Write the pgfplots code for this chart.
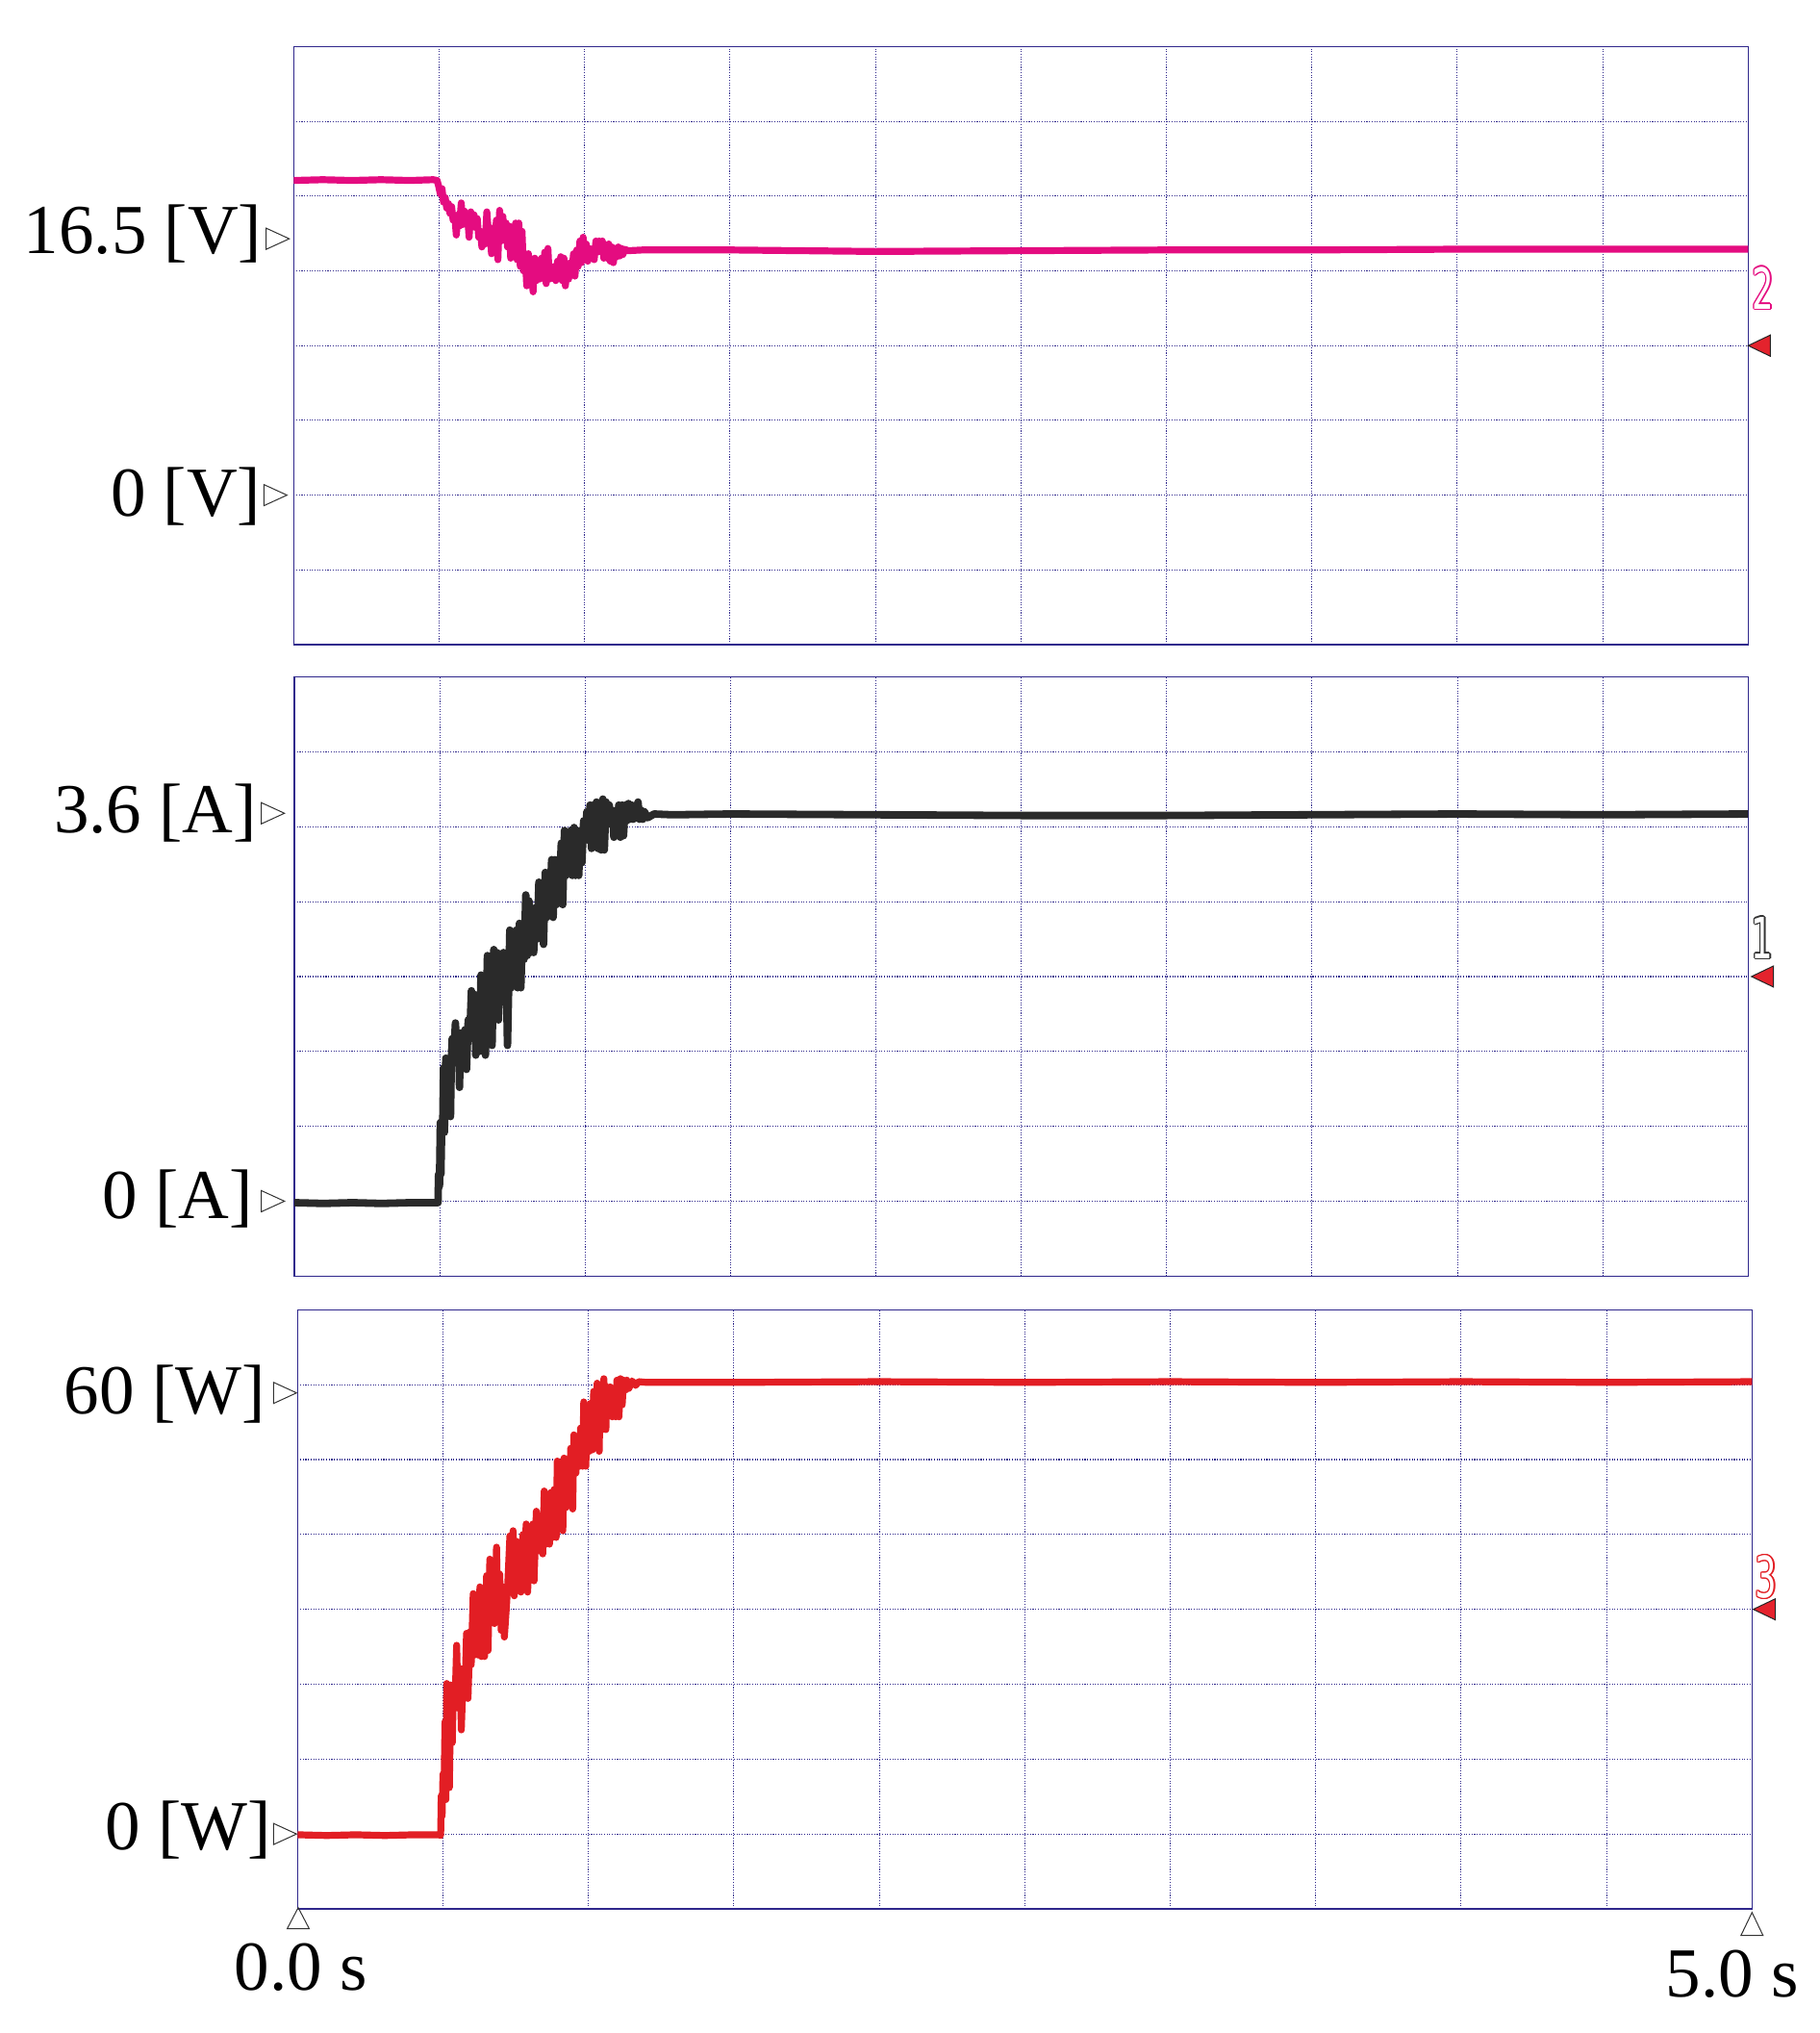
\documentclass[border=0pt]{standalone}
\usepackage{fontspec}
\setmainfont{Liberation Serif}
\newfontfamily\digfontfam[FakeStretch=0.6]{DejaVu Sans}
\usepackage{pgfplots}
\pgfplotsset{compat=1.18}
\definecolor{gridcol}{RGB}{48,40,140}
\definecolor{tpink}{RGB}{228,12,128}
\definecolor{tblack}{RGB}{42,42,42}
\definecolor{tred}{RGB}{226,30,36}
\definecolor{trired}{RGB}{228,35,45}
\newcommand\lbfont{\fontsize{36.5}{40}\selectfont}
\newcommand\digfont{\digfontfam\fontsize{29.5}{30}\selectfont}
% left label: text, tip x, text right x, baseline y (units: px = 0.5pt)
\NewDocumentCommand{\ylab}{mmmm}{\tikz[x=0.5pt,y=0.5pt,baseline=0pt]{\path (0,0);
 \draw[overlay,line width=0.5pt,draw=black!80] (#2,0) -- ({#2-24},11) -- ({#2-24},-11) -- cycle;
 \node[overlay,anchor=base east,inner sep=0pt,font=\lbfont,text=black] at (#3,#4) {#1};}}
% right marker: axis width, tip offset, digit colour, digit, dx, dy
\NewDocumentCommand{\rmark}{mmmmmm}{\tikz[x=0.5pt,y=0.5pt,baseline=0pt]{\path (0,0);
 \draw[overlay,line width=0.5pt,draw=black!85,fill=trired] ({#1+#2},0) -- ({#1+#2+23},11) -- ({#1+#2+23},-11) -- cycle;
 \foreach \a in {0,30,...,330}{\node[overlay,inner sep=0pt,text=#3,font=\digfont] at ({#1+#5+1.3*cos(\a)},{#6+1.3*sin(\a)}) {#4};}
 \node[overlay,inner sep=0pt,text=white,font=\digfont] at ({#1+#5},{#6}) {#4};}}
% x label: text, apex dx, apex dy, tri height, text dx, baseline dy
\NewDocumentCommand{\xlab}{mmmmmm}{\tikz[x=0.5pt,y=0.5pt,baseline=0pt]{\path (0,0);
 \draw[overlay,line width=0.5pt,draw=black!80] (#2,#3) -- ({#2-11.5},{#3-#4}) -- ({#2+11.5},{#3-#4}) -- cycle;
 \node[overlay,anchor=base,inner sep=0pt,font=\lbfont,text=black] at (#5,#6) {#1};}}
\pgfplotsset{osc/.style={scale only axis, anchor=north west,
  xmin=0,xmax=5,ymin=0,ymax=8,
  minor xtick={0.5,1,...,4.5}, minor ytick={1,2,...,7},
  xminorgrids=true, yminorgrids=true, xmajorgrids=false, ymajorgrids=false,
  minor grid style={draw=gridcol, line width=0.55pt, dash pattern=on 0.55pt off 0.8pt},
  axis line style={draw=gridcol,line width=0.6pt},
  major tick length=0pt, minor tick length=0pt, tick style={draw=none},
  tick label style={inner sep=0pt,outer sep=0pt},
  extra y ticks={4}, extra y tick style={grid=none},
}}
\begin{document}
\begin{tikzpicture}
\path[use as bounding box] (0,0) rectangle (945.5pt,-1056.5pt);
% ---------------- Panel 1: voltage ----------------
\begin{axis}[osc, at={(152.65pt,-24.25pt)}, width=756pt, height=310.75pt,
  xtick={0,5}, xticklabels={},
  ytick={2,5.43}, yticklabels={{\ylab{0 [V]}{-6}{-33}{-22}},{\ylab{16.5 [V]}{-3.6}{-32}{-15.7}}},
  extra y tick labels={{\rmark{1512}{1}{tpink}{2}{28}{60}}}]
\addplot[tpink, line width=3.6pt, line join=round] coordinates {
(0,6.21)(0.1,6.22)(0.2,6.21)(0.3,6.22)(0.4,6.21)(0.48,6.22)(0.493,6.21)
(0.498,6.14)(0.504,6.03)(0.510,6.10)(0.515,5.92)(0.521,5.98)(0.526,5.84)(0.532,5.90)(0.537,5.77)(0.543,5.86)(0.548,5.68)(0.554,5.73)(0.559,5.48)(0.565,5.75)(0.570,5.60)(0.576,5.91)(0.581,5.62)(0.587,5.80)(0.592,5.65)(0.598,5.72)(0.603,5.45)(0.609,5.79)(0.614,5.62)(0.620,5.75)(0.625,5.58)(0.631,5.70)(0.636,5.45)(0.642,5.53)(0.647,5.32)(0.653,5.45)(0.658,5.36)(0.664,5.79)(0.669,5.53)(0.675,5.58)(0.680,5.23)(0.686,5.55)(0.691,5.40)(0.697,5.68)(0.702,5.15)(0.708,5.81)(0.713,5.40)(0.719,5.73)(0.724,5.45)(0.730,5.64)(0.735,5.32)(0.741,5.60)(0.746,5.17)(0.752,5.53)(0.757,5.40)(0.763,5.64)(0.768,5.15)(0.774,5.64)(0.779,5.06)(0.785,5.53)(0.790,5.00)(0.796,5.23)(0.801,4.80)(0.807,5.23)(0.812,4.83)(0.818,5.04)(0.823,4.72)(0.829,5.17)(0.834,4.87)(0.840,5.04)(0.845,4.89)(0.852,5.17)(0.857,4.90)(0.863,5.25)(0.868,4.83)(0.874,5.30)(0.879,4.89)(0.885,5.06)(0.890,4.90)(0.896,5.06)(0.901,4.87)(0.907,5.13)(0.912,4.93)(0.918,5.19)(0.923,4.87)(0.929,5.17)(0.934,4.80)(0.940,5.06)(0.945,4.89)(0.951,5.11)(0.956,4.96)(0.962,5.23)(0.967,4.93)(0.973,5.28)(0.978,5.06)(0.984,5.40)(0.989,5.11)(0.995,5.45)(1.000,5.15)(1.006,5.36)(1.011,5.13)(1.017,5.30)(1.022,5.17)(1.028,5.28)(1.033,5.15)(1.039,5.40)(1.044,5.25)(1.050,5.40)(1.055,5.30)(1.061,5.40)(1.066,5.17)(1.072,5.32)(1.077,5.17)(1.083,5.36)(1.088,5.13)(1.094,5.32)(1.099,5.11)(1.105,5.30)(1.110,5.19)(1.116,5.32)(1.121,5.20)(1.127,5.30)(1.132,5.22)(1.138,5.29)(1.149,5.27)(1.2,5.28)(1.5,5.28)(2.0,5.26)(2.5,5.27)(3.0,5.28)(3.5,5.28)(4.0,5.29)(4.5,5.29)(5.0,5.29)
};
\end{axis}
% ---------------- Panel 2: current ----------------
\begin{axis}[osc, at={(153pt,-351.8pt)}, width=755.65pt, height=311.35pt,
  xtick={0,5}, xticklabels={},
  ytick={1,6.18}, yticklabels={{\ylab{0 [A]}{-9.3}{-42}{-18.3}},{\ylab{3.6 [A]}{-9.3}{-38}{-20}}},
  extra y tick labels={{\rmark{1511.3}{4.4}{black!80}{1}{27}{40.3}}}]
\addplot[tblack, line width=3.9pt, line join=round] coordinates {
(0,0.98)(0.1,0.97)(0.2,0.98)(0.3,0.97)(0.4,0.98)(0.49,0.98)(0.494,0.98)
(0.496,1.36)(0.499,1.20)(0.502,2.05)(0.504,1.36)(0.507,2.05)(0.510,1.92)(0.513,2.78)(0.516,1.92)(0.521,2.91)(0.524,2.52)(0.527,2.74)(0.532,2.52)(0.537,2.13)(0.540,2.91)(0.543,3.17)(0.548,2.91)(0.554,3.38)(0.559,2.91)(0.565,3.17)(0.568,2.52)(0.571,3.17)(0.576,3.25)(0.581,2.95)(0.587,3.29)(0.592,2.76)(0.598,3.42)(0.603,3.17)(0.609,3.81)(0.614,3.17)(0.620,3.76)(0.624,2.95)(0.631,3.64)(0.636,3.00)(0.642,4.02)(0.647,3.51)(0.653,3.89)(0.657,2.95)(0.664,4.28)(0.669,3.29)(0.675,4.06)(0.680,3.08)(0.686,4.36)(0.691,3.51)(0.697,4.32)(0.702,3.42)(0.708,4.28)(0.713,3.89)(0.719,4.32)(0.724,3.68)(0.730,3.76)(0.733,3.08)(0.741,4.62)(0.746,3.85)(0.752,4.32)(0.757,3.89)(0.763,4.62)(0.768,3.85)(0.774,4.71)(0.779,3.85)(0.785,4.71)(0.790,4.23)(0.796,5.09)(0.801,4.28)(0.807,5.01)(0.812,4.32)(0.818,4.88)(0.823,4.32)(0.830,4.92)(0.835,4.50)(0.841,5.26)(0.846,4.70)(0.852,5.13)(0.857,4.43)(0.863,5.39)(0.868,4.79)(0.874,5.39)(0.879,4.96)(0.885,5.56)(0.890,4.79)(0.896,5.56)(0.901,4.96)(0.907,5.56)(0.912,5.22)(0.918,5.78)(0.923,4.96)(0.929,5.95)(0.934,5.35)(0.940,5.82)(0.945,5.48)(0.951,5.95)(0.956,5.35)(0.962,5.99)(0.967,5.35)(0.973,5.95)(0.978,5.35)(0.984,5.95)(0.989,5.52)(0.995,6.08)(1.000,5.82)(1.006,6.20)(1.011,5.82)(1.017,6.29)(1.022,5.71)(1.028,6.29)(1.033,5.86)(1.039,6.33)(1.044,5.71)(1.050,6.20)(1.055,5.69)(1.061,6.37)(1.066,5.69)(1.072,6.33)(1.077,6.03)(1.083,6.29)(1.088,6.08)(1.094,6.22)(1.099,5.86)(1.105,6.20)(1.110,6.03)(1.116,6.29)(1.121,5.86)(1.127,6.29)(1.132,5.88)(1.138,6.29)(1.143,6.08)(1.149,6.31)(1.154,6.10)(1.160,6.29)(1.165,6.10)(1.171,6.22)(1.176,6.12)(1.182,6.33)(1.187,6.10)(1.193,6.22)(1.198,6.10)(1.204,6.20)(1.215,6.12)(1.237,6.17)(1.3,6.16)(1.5,6.17)(2.0,6.16)(2.5,6.15)(3.0,6.15)(3.5,6.16)(4.0,6.17)(4.5,6.16)(5.0,6.17)
};
\end{axis}
% ---------------- Panel 3: power ----------------
\begin{axis}[osc, at={(154.65pt,-680.65pt)}, width=756pt, height=311.35pt,
  xtick={0,5}, xticklabels={{\xlab{0.0 s}{0.7}{2.3}{22}{3.4}{-83.3}},{\xlab{5.0 s}{0}{-2.7}{24}{-20.8}{-90}}},
  ytick={1,6.89}, yticklabels={{\ylab{0 [W]}{0}{-26.6}{-16.7}},{\ylab{60 [W]}{0}{-32.6}{-21.7}}},
  extra y tick labels={{\rmark{1512}{2.3}{tred}{3}{27}{33.6}}}]
\addplot[tred, line width=3.6pt, line join=round] coordinates {
(0,0.99)(0.1,0.98)(0.2,0.99)(0.3,0.98)(0.4,0.99)(0.488,0.99)(0.492,0.98)
(0.494,1.51)(0.497,1.24)(0.500,1.80)(0.503,1.46)(0.507,2.50)(0.510,1.46)(0.513,3.01)(0.518,2.70)(0.522,1.62)(0.527,2.99)(0.532,2.22)(0.536,2.99)(0.541,2.68)(0.547,3.52)(0.552,2.68)(0.559,3.21)(0.563,2.39)(0.570,3.21)(0.575,2.81)(0.581,3.68)(0.586,2.81)(0.593,3.70)(0.597,3.26)(0.604,4.21)(0.609,3.39)(0.616,3.99)(0.620,3.39)(0.627,4.30)(0.632,3.37)(0.638,4.05)(0.643,3.37)(0.650,4.45)(0.655,3.45)(0.661,4.67)(0.666,3.88)(0.673,4.14)(0.677,3.81)(0.684,4.83)(0.689,3.90)(0.695,4.47)(0.700,3.72)(0.707,4.30)(0.711,3.63)(0.718,4.03)(0.723,4.36)(0.730,4.98)(0.734,4.36)(0.741,5.05)(0.745,4.18)(0.752,4.91)(0.757,4.27)(0.764,4.72)(0.768,4.23)(0.775,5.00)(0.780,4.54)(0.786,5.14)(0.791,4.23)(0.798,4.94)(0.802,4.40)(0.809,5.14)(0.813,4.38)(0.821,5.31)(0.825,5.03)(0.832,4.78)(0.836,5.20)(0.843,4.74)(0.848,5.58)(0.855,4.87)(0.859,5.25)(0.866,4.87)(0.871,5.56)(0.878,4.96)(0.882,5.60)(0.889,4.96)(0.893,5.98)(0.900,5.36)(0.905,5.53)(0.912,5.05)(0.916,6.02)(0.923,5.36)(0.927,5.84)(0.935,5.45)(0.939,6.15)(0.946,5.34)(0.950,6.33)(0.957,5.82)(0.961,6.15)(0.969,5.91)(0.973,6.42)(0.980,5.91)(0.984,6.77)(0.991,5.91)(0.995,6.49)(1.003,6.11)(1.007,6.75)(1.014,6.13)(1.018,6.91)(1.025,6.40)(1.030,7.02)(1.037,6.11)(1.041,6.95)(1.048,6.40)(1.053,7.08)(1.060,6.40)(1.064,6.97)(1.071,6.73)(1.075,6.97)(1.082,6.57)(1.087,6.95)(1.094,6.57)(1.098,7.06)(1.105,6.57)(1.110,7.08)(1.116,6.73)(1.121,7.06)(1.128,6.93)(1.132,7.06)(1.139,6.95)(1.150,7.05)(1.162,6.99)(1.173,7.04)(1.2,7.03)(1.5,7.03)(2.0,7.04)(2.5,7.03)(3.0,7.04)(3.5,7.03)(4.0,7.04)(4.5,7.03)(5.0,7.04)
};
\end{axis}
\end{tikzpicture}
\end{document}
